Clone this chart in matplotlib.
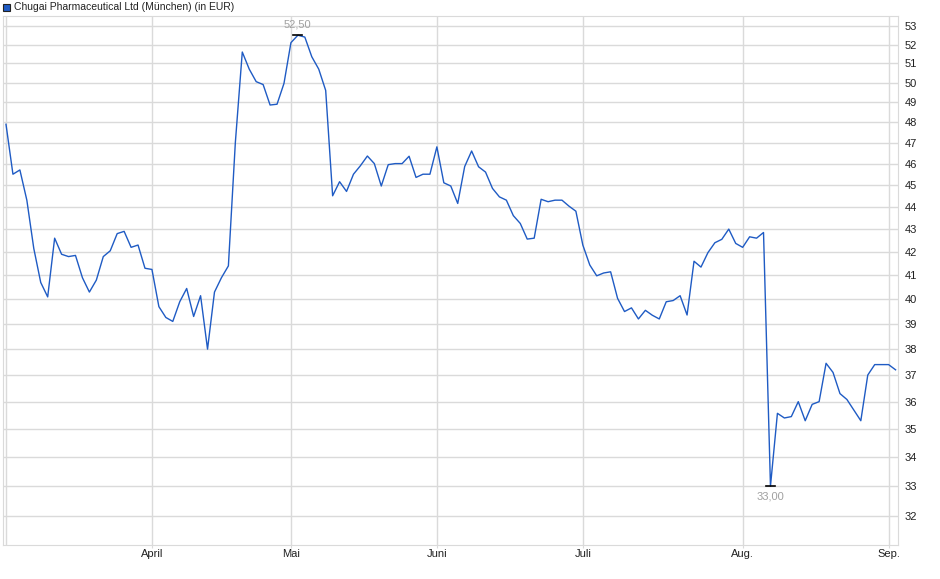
import matplotlib
matplotlib.use("Agg")
import matplotlib.pyplot as plt
import matplotlib.patches as patches
from matplotlib.ticker import FixedLocator, NullLocator
import pandas as pd
import numpy as np

plt.rcParams['font.family'] = ['Liberation Sans', 'DejaVu Sans']

title = "Chugai Pharmaceutical Ltd (München) (in EUR)"
holidays = ["2025-04-18", "2025-04-21", "2025-05-01"]
month_labels = ["April", "Mai", "Juni", "Juli", "Aug.", "Sep."]
y_ticks = list(range(32, 54))

prices = [
    47.9, 45.5, 45.7, 44.3, 42.15, 40.7, 40.1, 42.6, 41.9, 41.8,
    41.85, 40.9, 40.3, 40.8, 41.8, 42.05, 42.8, 42.9, 42.2, 42.3,
    41.3, 41.25, 39.7, 39.26, 39.1, 39.9, 40.45, 39.3, 40.15, 38.0,
    40.3, 40.9, 41.4, 47.0, 51.6, 50.7, 50.05, 49.9, 48.86, 48.9,
    49.96, 52.1, 52.5, 52.4, 51.35, 50.7, 49.6, 44.5, 45.15, 44.7,
    45.5, 45.9, 46.36, 46.0, 44.95, 45.95, 46.0, 46.0, 46.35, 45.35,
    45.5, 45.5, 46.8, 45.1, 44.95, 44.15, 45.86, 46.6, 45.85, 45.6,
    44.84, 44.45, 44.3, 43.6, 43.25, 42.56, 42.6, 44.34, 44.23, 44.3,
    44.3, 44.03, 43.8, 42.3, 41.44, 40.98, 41.1, 41.15, 40.04, 39.5,
    39.65, 39.2, 39.55, 39.35, 39.2, 39.9, 39.95, 40.15, 39.36, 41.6,
    41.35, 41.97, 42.4, 42.55, 43.0, 42.37, 42.2, 42.66, 42.6, 42.85,
    33.0, 35.57, 35.4, 35.45, 36.0, 35.3, 35.9, 36.0, 37.45, 37.1,
    36.3, 36.08, 35.69, 35.3, 37.0, 37.4, 37.4, 37.4, 37.2,
]

days = pd.bdate_range("2025-03-03", "2025-09-02")
days = days[~days.isin(pd.to_datetime(holidays))]
df = pd.DataFrame({"date": days, "price": prices})
df["i"] = np.arange(len(df))

# first trading day of each month (skip March)
firsts = df.groupby(df["date"].dt.to_period("M"))["i"].min().values[1:]

W, H = 940, 579
fig = plt.figure(figsize=(W / 100, H / 100), dpi=100)
ax = fig.add_axes([3 / W, 1 - 545 / H, 895 / W, 529 / H])

grid_c = "#dadada"
ax.set_yscale("log")
ax.set_ylim(31.06, 53.55)
ax.set_xlim(-0.43, 128.35)

for v in y_ticks:
    ax.axhline(v, color=grid_c, lw=1, zorder=1)
for x in list(firsts) + [0]:
    ax.axvline(x, color=grid_c, lw=1, zorder=1)

ax.plot(df["i"], df["price"], color="#1f5bc4", lw=1, zorder=3)

# max / min markers
imax = df["price"].idxmax()
imin = df["price"].idxmin()
for idx, off, va in [(imax, 4, "bottom"), (imin, -4, "top")]:
    xv, yv = df.loc[idx, "i"], df.loc[idx, "price"]
    ax.plot([xv - 0.65, xv + 0.65], [yv, yv], color="black", lw=1.2, zorder=4)
    ax.annotate(f"{yv:.2f}".replace(".", ","), (xv, yv), xytext=(0, off),
                textcoords="offset points", ha="center", va=va,
                fontsize=8, color="#a0a0a0", zorder=5)

ax.yaxis.tick_right()
ax.yaxis.set_major_locator(FixedLocator(y_ticks))
ax.yaxis.set_minor_locator(NullLocator())
ax.set_yticklabels([str(v) for v in y_ticks])
ax.set_xticks(firsts)
ax.set_xticklabels(month_labels)
ax.tick_params(axis="y", length=0, pad=5, labelsize=8, colors="#222222")
ax.tick_params(axis="x", length=2, pad=1, labelsize=8, colors="#222222", color=grid_c)
for s in ax.spines.values():
    s.set_color(grid_c)

fig.patches.append(patches.Rectangle((3 / W, 1 - 11 / H), 7 / W, 7 / H,
                                     transform=fig.transFigure, facecolor="#1f5bc4",
                                     edgecolor="#222222", lw=0.8))
fig.text(14 / W, 1 - 7 / H, title, fontsize=7.5, va="center", ha="left", color="#222222")

fig.savefig("out.png", dpi=100)
